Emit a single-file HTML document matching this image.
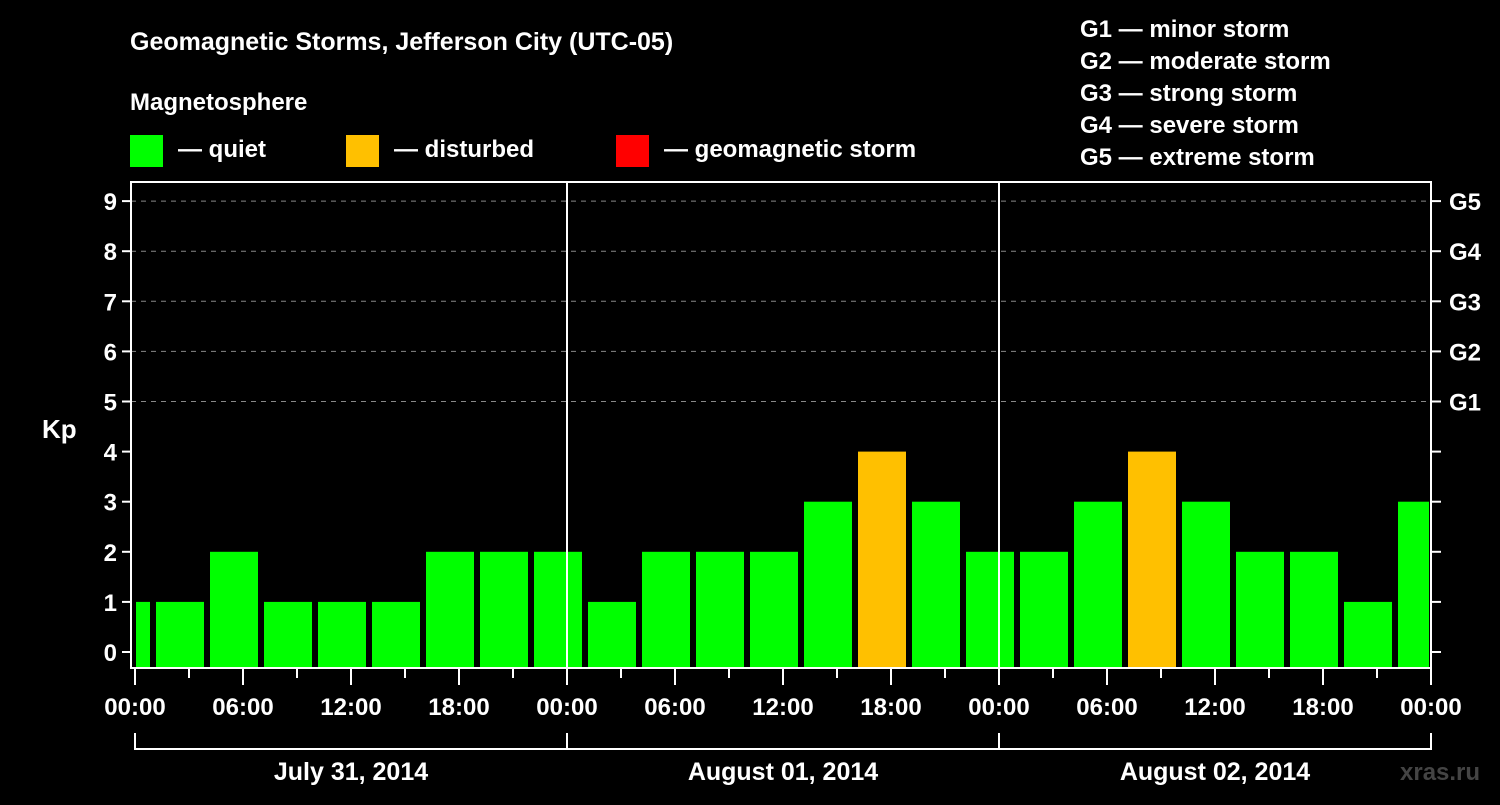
<!DOCTYPE html>
<html><head><meta charset="utf-8"><style>
body{margin:0;background:#000;}
svg text{font-family:"Liberation Sans",Arial,sans-serif;font-weight:bold;fill:#fff;}
</style></head><body>
<svg width="1500" height="800" viewBox="0 0 1500 800" xmlns="http://www.w3.org/2000/svg">
<rect width="1500" height="800" fill="#000"/>
<text x="130" y="50" font-size="25">Geomagnetic Storms, Jefferson City (UTC-05)</text>
<text x="130" y="110" font-size="24">Magnetosphere</text>
<g><rect x="130" y="135" width="33" height="32" fill="#00ff00"/><text x="178" y="157" font-size="24">— quiet</text></g>
<g><rect x="346" y="135" width="33" height="32" fill="#ffc000"/><text x="394" y="157" font-size="24">— disturbed</text></g>
<g><rect x="616" y="135" width="33" height="32" fill="#ff0000"/><text x="664" y="157" font-size="24">— geomagnetic storm</text></g>
<g font-size="24">
<text x="1080" y="37">G1 — minor storm</text>
<text x="1080" y="69">G2 — moderate storm</text>
<text x="1080" y="101">G3 — strong storm</text>
<text x="1080" y="133">G4 — severe storm</text>
<text x="1080" y="165">G5 — extreme storm</text>
</g>
<text x="42" y="438" font-size="26">Kp</text>
<text x="1400" y="780" font-size="24" style="fill:#444">xras.ru</text>
<g id="grid"></g>
<g id="bars"></g>
<g id="axes"></g>
</svg>
<script>
const kpValues=[1,1,2,1,1,1,2,2,2,1,2,2,2,3,4,3,2,2,3,4,3,2,2,1,3];
const yTicks=[0,1,2,3,4,5,6,7,8,9];
const gLabels=["G1","G2","G3","G4","G5"];
const xTickLabels=["00:00","06:00","12:00","18:00","00:00","06:00","12:00","18:00","00:00","06:00","12:00","18:00","00:00"];
const dayLabels=["July 31, 2014","August 01, 2014","August 02, 2014"];
const NS="http://www.w3.org/2000/svg";
const X0=135,PX_H=18,L=131,R=1431,T=182,B=668;
const xs=h=>X0+h*PX_H;
const ys=v=>652-v*50.1;
function mk(tag,attrs,parent){const e=document.createElementNS(NS,tag);for(const k in attrs)e.setAttribute(k,attrs[k]);parent.appendChild(e);return e;}
const grid=document.getElementById('grid'),bars=document.getElementById('bars'),axes=document.getElementById('axes');
yTicks.forEach(v=>{
 if(v>=5){const l=mk('line',{x1:L,x2:R,y1:ys(v),y2:ys(v),stroke:'#888','stroke-dasharray':'5,5','stroke-width':1},grid);
 
 }
 const t=mk('line',{x1:122,x2:L,y1:ys(v),y2:ys(v),stroke:'#fff','stroke-width':2},axes);
 
 
 const t2=mk('line',{x1:R,x2:1441,y1:ys(v),y2:ys(v),stroke:'#fff','stroke-width':2},axes);
 
 
 const tx=mk('text',{x:117,y:ys(v)+9,'font-size':24,'text-anchor':'end'},axes);tx.textContent=v;
 
 
 if(v>=5){const g=mk('text',{x:1449,y:ys(v)+9,'font-size':24},axes);g.textContent=gLabels[v-5];
 
 }
});
kpValues.forEach((v,i)=>{
 let x1=xs(-2+3*i)+3,x2=x1+48;x1=Math.max(x1,L+5);x2=Math.min(x2,R-2);
 const c=v>=5?'#ff0000':(v>=4?'#ffc000':'#00ff00');
 const r=mk('rect',{x:x1,y:ys(v),width:x2-x1,height:B-1-ys(v),fill:c},bars);
 
 
});
[24,48].forEach(h=>{const l=mk('line',{x1:xs(h),x2:xs(h),y1:T,y2:B,stroke:'#fff','stroke-width':2},axes);
 
 });
const f=mk('rect',{x:L,y:T,width:R-L,height:B-T,fill:'none',stroke:'#fff','stroke-width':2},axes);


for(let h=0;h<=72;h+=3){const major=h%6===0;
 const t=mk('line',{x1:xs(h),x2:xs(h),y1:B,y2:major?685:678,stroke:'#fff','stroke-width':2},axes);
 
 }
xTickLabels.forEach((s,i)=>{const t=mk('text',{x:xs(i*6),y:715,'font-size':24,'text-anchor':'middle'},axes);t.textContent=s;
 
 });
dayLabels.forEach((s,i)=>{
 const p=mk('path',{d:`M${xs(i*24)},733V749H${xs(i*24+24)}V733`,fill:'none',stroke:'#fff','stroke-width':2},axes);
 
 
 const t=mk('text',{x:xs(i*24+12),y:780,'font-size':25,'text-anchor':'middle'},axes);t.textContent=s;
 
 });
</script>
</body></html>
